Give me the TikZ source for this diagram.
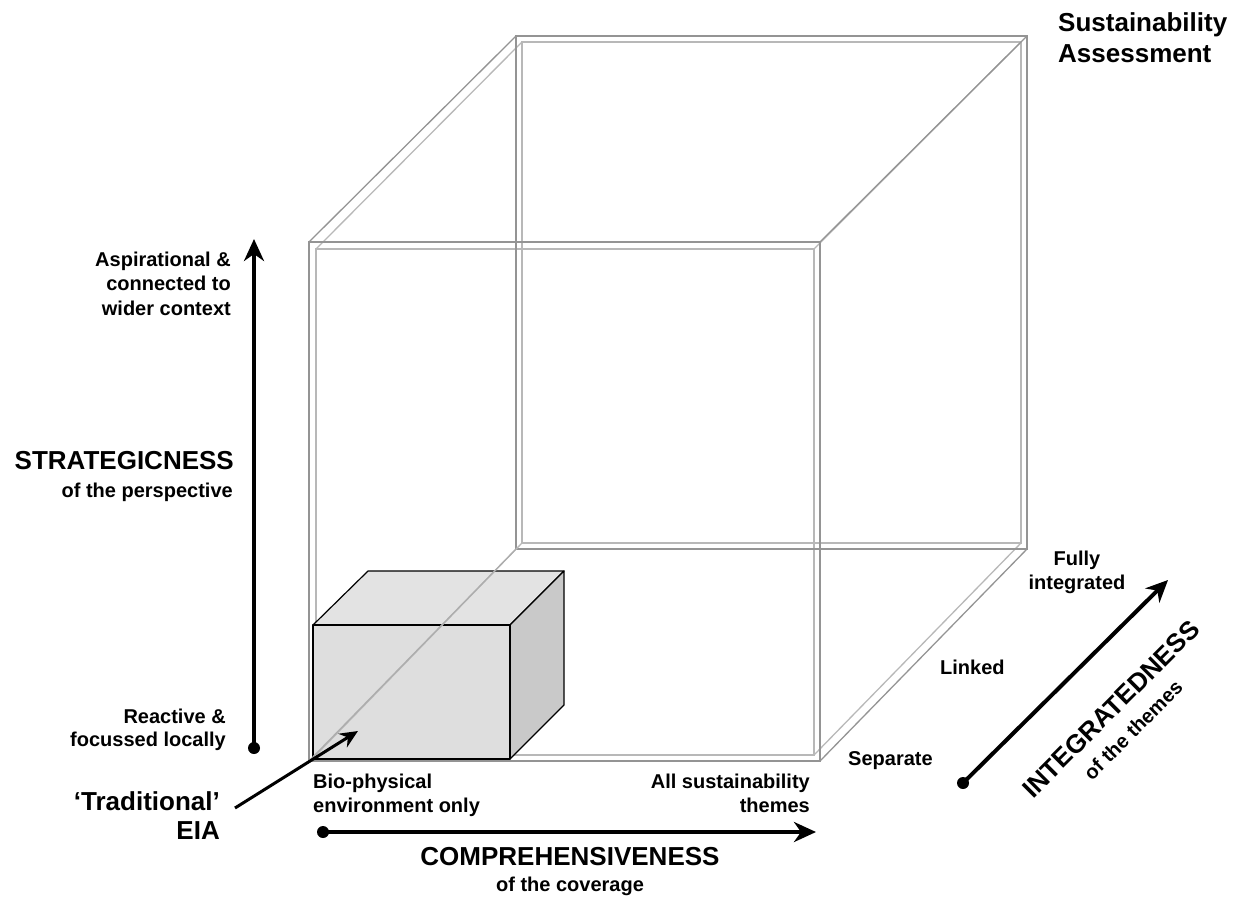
\documentclass[tikz,border=0pt]{standalone}
\usepackage{fontspec}
\setmainfont{Liberation Sans}
\usetikzlibrary{arrows.meta}
\newcommand\labfont{\fontsize{20}{24.5}\selectfont\bfseries}
\newcommand\ttlfont{\fontsize{26}{29}\selectfont\bfseries}
\newcommand\sustfont{\fontsize{26}{31}\selectfont\bfseries}
\begin{document}
\begin{tikzpicture}[x=1pt,y=-1pt,
  lab/.style={font=\labfont, inner sep=0pt},
  ttl/.style={font=\ttlfont, inner sep=0pt},
  outerline/.style={draw=black!42, line width=1.3pt},
  innerline/.style={draw=black!28, line width=1.3pt},
  axis/.style={line width=4pt, -{Stealth[length=22pt,width=20pt,inset=7pt]}},
  dotnode/.style={circle, fill=black, inner sep=0pt, minimum size=12pt},
  boxedge/.style={draw=black, line width=1.2pt, line join=round}]
\useasboundingbox (0,0) rectangle (1238,897);
% ---- big cube, outer wireframe
\coordinate (OA) at (309,242); \coordinate (OB) at (820,242);
\coordinate (OC) at (820,761); \coordinate (OD) at (309,761);
\coordinate (OE) at (516,36);  \coordinate (OF) at (1027,36);
\coordinate (OG) at (1027,549);\coordinate (OH) at (516,549);
% ---- inner wireframe
\coordinate (IA) at (316,249); \coordinate (IB) at (814,249);
\coordinate (IC) at (814,755); \coordinate (ID) at (316,755);
\coordinate (IE) at (522,42);  \coordinate (IF) at (1021,42);
\coordinate (IG) at (1021,543);\coordinate (IH) at (522,543);
\draw[innerline] (IA) -- (IB) -- (IC) -- (ID) -- cycle;
\draw[innerline] (IE) -- (IF) -- (IG) -- (IH) -- cycle;
\draw[innerline] (IA) -- (IE) (IB) -- (IF) (IC) -- (IG);
\draw[outerline] (OA) -- (OB) -- (OC) -- (OD) -- cycle;
\draw[outerline] (OE) -- (OF) -- (OG) -- (OH) -- cycle;
\draw[outerline] (OA) -- (OE) (OB) -- (OF) (OC) -- (OG);
% ---- small box (traditional EIA)
\coordinate (F1) at (313,625); \coordinate (F2) at (510,625);
\coordinate (F3) at (510,759); \coordinate (F4) at (313,759);
\coordinate (B1) at (368,571); \coordinate (B2) at (564,571);
\coordinate (B3) at (564,705);
\filldraw[boxedge, fill=black!11] (F1) -- (B1) -- (B2) -- (F2) -- cycle;
\filldraw[boxedge, fill=black!21] (F2) -- (B2) -- (B3) -- (F3) -- cycle;
\filldraw[boxedge, fill=black!13] (F1) -- (F2) -- (F3) -- (F4) -- cycle;
% diagonal seen through the box
\draw[innerline] (ID) -- (IH);
\draw[outerline, draw=black!32] (OD) -- (OH);
% ---- labels
\node[font=\sustfont, inner sep=0pt, anchor=north west, align=left] (sust) at (1058,12.5) {Sustainability\\Assessment};
\node[lab, anchor=north east, align=right] (asp) at (231,251.7) {Aspirational \&\\connected to\\wider context};
\node[lab, anchor=north east, align=right, font=\fontsize{20}{23.5}\selectfont\bfseries] (react) at (226,708.7) {Reactive \&\\focussed locally};
\node[ttl, anchor=north east] (strat) at (234,451.6) {STRATEGICNESS};
\node[lab, anchor=north east] (stratsub) at (233,482.7) {of the perspective};
\node[ttl, anchor=north east, align=right] (trad) at (220,791.6) {‘Traditional’\\EIA};
\node[lab, anchor=north west, align=left, font=\fontsize{20}{24}\selectfont\bfseries] (bio) at (313,773.7) {Bio-physical\\environment only};
\node[lab, anchor=north east, align=right, font=\fontsize{20}{24}\selectfont\bfseries] (allsus) at (810,773.7) {All sustainability\\themes};
\node[ttl, anchor=north] (comp) at (570,847.6) {COMPREHENSIVENESS};
\node[lab, anchor=north] (compsub) at (570,876.7) {of the coverage};
\node[lab, anchor=north, align=center, font=\fontsize{20}{24}\selectfont\bfseries] (fully) at (1077,550.7) {Fully\\integrated};
\node[lab, anchor=north west] (linked) at (940,659.7) {Linked};
\node[lab, anchor=north west] (separate) at (848,751.7) {Separate};
\node[ttl, rotate=45] (integ) at (1111,709) {INTEGRATEDNESS};
\node[lab, rotate=45] (integsub) at (1133,730) {of the themes};
% ---- axes
\node[dotnode] (vdot) at (254,748) {};
\coordinate (vtip) at (254,239);
\draw[axis] (vdot.center) -- (vtip);
\node[dotnode] (hdot) at (323,832) {};
\coordinate (htip) at (816,832);
\draw[axis] (hdot.center) -- (htip);
\node[dotnode] (idot) at (963,783) {};
\coordinate (itip) at (1168,580);
\draw[axis] (idot.center) -- (itip);
% ---- pointer for traditional EIA
\coordinate (tstart) at (235,808);
\coordinate (ttip) at (358,731);
\draw[line width=3pt, -{Stealth[length=18pt,width=16pt,inset=6pt]}] (tstart) -- (ttip);
\end{tikzpicture}
\end{document}
